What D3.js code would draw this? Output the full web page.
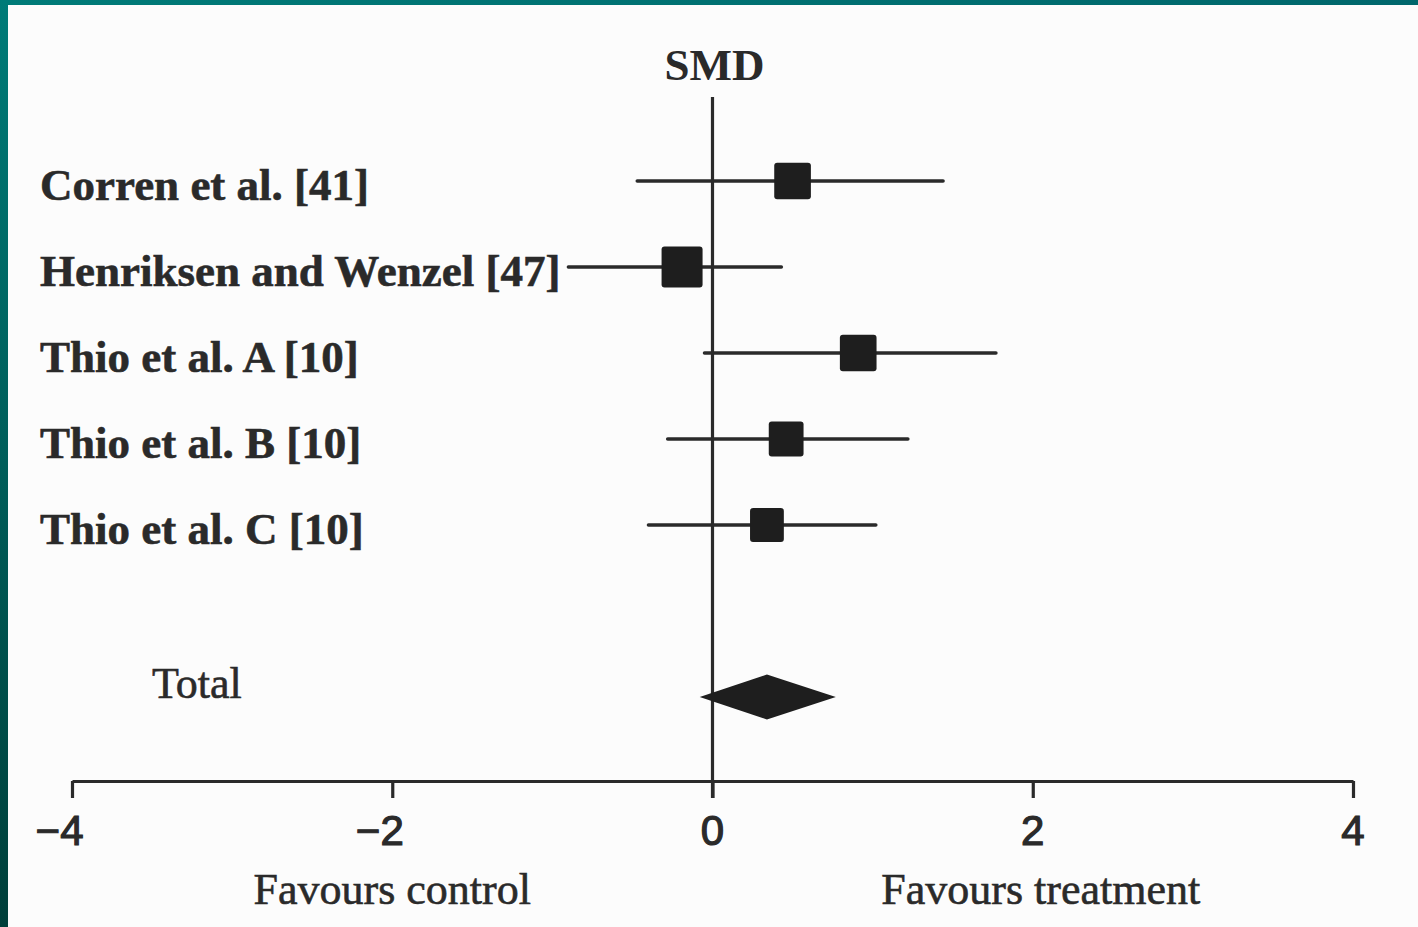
<!DOCTYPE html>
<html>
<head>
<meta charset="utf-8">
<script src="https://cdn.jsdelivr.net/npm/d3@7"></script>
<style>
  html, body { margin: 0; padding: 0; background: #fcfcfc; overflow: hidden; }
  svg { display: block; }
</style>
</head>
<body>
<svg id="chart" width="1418" height="927"></svg>
<script>
// Forest plot data: standardised mean difference per study with 95% CI
const studies  = ["Corren et al. [41]", "Henriksen and Wenzel [47]", "Thio et al. A [10]", "Thio et al. B [10]", "Thio et al. C [10]"];
const smd      = [0.50, -0.19, 0.91, 0.46, 0.34];
const ciLower  = [-0.47, -0.90, -0.05, -0.28, -0.40];
const ciUpper  = [1.44, 0.43, 1.77, 1.22, 1.02];
const weights  = [20, 25, 20, 18, 17];   // % weight, drives square area

const totalLabel = "Total";
const totalSmd   = [0.34];
const totalCi    = [-0.08, 0.77];

const xTicks     = [-4, -2, 0, 2, 4];
const axisTitle  = "SMD";
const sideLabels = ["Favours control", "Favours treatment"];
const sideAt     = [-2, 2];

const W = 1418, H = 927;
const svg = d3.select("#chart");

// frame: background and teal edge bars
const defs = svg.append("defs");
const gLeft = defs.append("linearGradient").attr("id", "edgeLeft")
  .attr("x1", 0).attr("y1", 0).attr("x2", 0).attr("y2", 1);
gLeft.append("stop").attr("offset", "0%").attr("stop-color", "#007b78");
gLeft.append("stop").attr("offset", "100%").attr("stop-color", "#003f3a");
const gTop = defs.append("linearGradient").attr("id", "edgeTop")
  .attr("x1", 0).attr("y1", 0).attr("x2", 1).attr("y2", 0);
gTop.append("stop").attr("offset", "0%").attr("stop-color", "#007b78");
gTop.append("stop").attr("offset", "100%").attr("stop-color", "#00676c");

svg.append("rect").attr("width", W).attr("height", H).attr("fill", "#fcfcfc");
svg.append("rect").attr("x", 0).attr("y", 0).attr("width", W).attr("height", 5).attr("fill", "url(#edgeTop)");
svg.append("rect").attr("x", 0).attr("y", 0).attr("width", 8).attr("height", H).attr("fill", "url(#edgeLeft)");

const ink = "#2a2a2a";
const serif = "'Liberation Serif', 'Times New Roman', serif";
const sans = "'Liberation Sans', Arial, sans-serif";

// scales
const x = d3.scaleLinear().domain([-4, 4]).range([72, 1353]);
const rowKeys = studies.concat(["__gap__", totalLabel]);
const y = d3.scalePoint().domain(rowKeys).range([181, 697]);
const size = d3.scaleSqrt().domain([0, 25]).range([0, 41]);

const axisY = 781;

// x axis
const axis = d3.axisBottom(x).tickValues(xTicks).tickSize(17).tickSizeOuter(0).tickFormat("");
const gAxis = svg.append("g").attr("transform", `translate(0,${axisY})`).call(axis);
gAxis.select(".domain").attr("stroke", ink).attr("stroke-width", 3.2);
gAxis.selectAll(".tick line").attr("stroke", ink).attr("stroke-width", 3.2);

// tick labels: digit centred on the tick, minus sign hanging to the left
svg.append("g").selectAll("text").data(xTicks).join("text")
  .attr("x", d => x(d) + 11.5)
  .attr("y", 845)
  .attr("text-anchor", "end")
  .attr("font-family", sans)
  .attr("font-size", 42)
  .attr("fill", ink)
  .attr("stroke", ink).attr("stroke-width", 1.2)
  .text(d => d < 0 ? "\u2212" + Math.abs(d) : String(d));

// line of no effect
svg.append("line")
  .attr("x1", x(0)).attr("x2", x(0))
  .attr("y1", 97).attr("y2", axisY + 17)
  .attr("stroke", ink).attr("stroke-width", 3.2);

// title
svg.append("text")
  .attr("x", x(0) + 2).attr("y", 80)
  .attr("text-anchor", "middle")
  .attr("font-family", serif).attr("font-weight", "bold")
  .attr("font-size", 45).attr("fill", ink)
  .text(axisTitle);

// study rows
const rows = studies.map((s, i) => ({ name: s, est: smd[i], lo: ciLower[i], hi: ciUpper[i], w: weights[i] }));

const gRows = svg.append("g");
gRows.selectAll("line.ci").data(rows).join("line")
  .attr("class", "ci")
  .attr("x1", d => x(d.lo)).attr("x2", d => x(d.hi))
  .attr("y1", d => y(d.name)).attr("y2", d => y(d.name))
  .attr("stroke", ink).attr("stroke-width", 3.5).attr("stroke-linecap", "round");

gRows.selectAll("rect.est").data(rows).join("rect")
  .attr("class", "est")
  .attr("x", d => x(d.est) - size(d.w) / 2)
  .attr("y", d => y(d.name) - size(d.w) / 2)
  .attr("width", d => size(d.w))
  .attr("height", d => size(d.w))
  .attr("rx", 3)
  .attr("fill", "#1e1e1e");

gRows.selectAll("text.lbl").data(rows).join("text")
  .attr("class", "lbl")
  .attr("x", 40)
  .attr("y", d => y(d.name) + 19)
  .attr("font-family", serif).attr("font-weight", "bold")
  .attr("font-size", 45).attr("fill", ink)
  .attr("stroke", ink).attr("stroke-width", 0.6)
  .text(d => d.name);

// pooled estimate diamond
const ty = y(totalLabel);
const half = 22.5;
const diamond = [
  [x(totalCi[0]), ty],
  [x(totalSmd[0]), ty - half],
  [x(totalCi[1]), ty],
  [x(totalSmd[0]), ty + half]
];
svg.append("path")
  .attr("d", d3.line()(diamond) + "Z")
  .attr("fill", "#1e1e1e");

svg.append("text")
  .attr("x", 152).attr("y", ty + 1)
  .attr("font-family", serif)
  .attr("font-size", 44).attr("fill", ink)
  .attr("stroke", ink).attr("stroke-width", 0.6)
  .text(totalLabel);

// direction labels under the axis
svg.append("g").selectAll("text").data(sideLabels).join("text")
  .attr("x", (d, i) => x(sideAt[i]) + (i === 0 ? 0 : 8))
  .attr("y", 904)
  .attr("text-anchor", "middle")
  .attr("font-family", serif)
  .attr("font-size", 44).attr("fill", ink)
  .attr("stroke", ink).attr("stroke-width", 0.6)
  .text(d => d);
</script>
</body>
</html>
